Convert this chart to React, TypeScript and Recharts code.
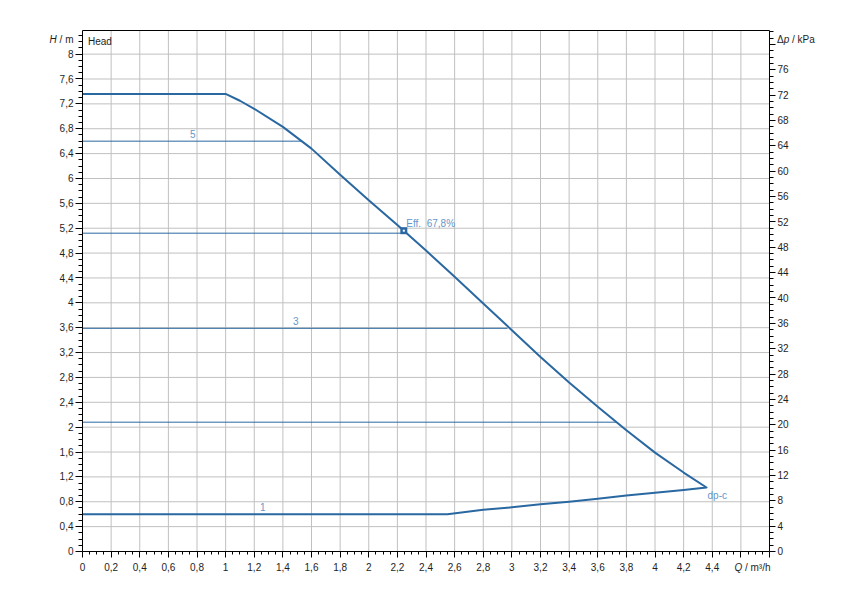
import React from "react";
import {
  ComposedChart,
  Line,
  Scatter,
  XAxis,
  YAxis,
  CartesianGrid,
  ReferenceLine,
  Label,
} from "recharts";

// ---------- data ----------
// max curve (dp-c limit, full speed), Q in m³/h, H in m
const MAX_Q = [0, 1.0, 1.1, 1.2, 1.4, 1.6, 1.8, 2.0, 2.2, 2.4, 2.6, 2.8, 3.0, 3.2, 3.4, 3.6, 3.8, 4.0, 4.2, 4.36];
const MAX_H = [7.36, 7.36, 7.25, 7.12, 6.83, 6.48, 6.06, 5.65, 5.25, 4.84, 4.42, 3.99, 3.56, 3.13, 2.72, 2.33, 1.95, 1.59, 1.27, 1.03];
// min curve (returning from end point)
const MIN_Q = [4.2, 4.0, 3.8, 3.6, 3.4, 3.2, 3.0, 2.8, 2.55, 0];
const MIN_H = [0.99, 0.945, 0.9, 0.85, 0.8, 0.76, 0.71, 0.67, 0.6, 0.6];
// constant-speed lines
const SPEED_H = [6.6, 5.12, 3.59, 2.08];
const SPEED_END_Q = [1.53, 2.245, 2.97, 3.73];
// curve labels
const CURVE_LABELS = [
  { q: 0.77, h: 6.6, text: "5" },
  { q: 1.49, h: 3.59, text: "3" },
  { q: 1.26, h: 0.6, text: "1" },
];
const END_LABEL = [{ q: 4.36, h: 1.03, text: "dp-c" }];
const EFF_POINT = [{ q: 2.245, h: 5.16, text: "Eff.  67,8%" }];

// axis ticks
const X_TICKS: number[] = [];
for (let i = 0; i <= 96; i++) X_TICKS.push(Math.round(i * 5) / 100);
const H_TICKS: number[] = [];
for (let i = 0; i <= 83; i++) H_TICKS.push(Math.round(i) / 10);
const P_TICKS: number[] = [];
for (let i = 0; i <= 82; i++) P_TICKS.push(i);
const X_GRID = [0.2, 0.4, 0.6, 0.8, 1, 1.2, 1.4, 1.6, 1.8, 2, 2.2, 2.4, 2.6, 2.8, 3, 3.2, 3.4, 3.6, 3.8, 4, 4.2, 4.4, 4.6];
const H_GRID = [0.4, 0.8, 1.2, 1.6, 2, 2.4, 2.8, 3.2, 3.6, 4, 4.4, 4.8, 5.2, 5.6, 6, 6.4, 6.8, 7.2, 7.6, 8];
const X_LABEL_MAX = 4.4;
const H_LABEL_MAX = 8;
const P_LABEL_MAX = 76;
const H_MAX = 8.38;
const P_MAX = H_MAX * 9.81;

// ---------- style ----------
const BLUE = "#2a68a2";
const LABEL_BLUE = "#6596cc";
const TEXT = "#1e1e1e";
const FONT = "'Liberation Sans', Arial, sans-serif";
const FS = 10;

const near = (v: number, step: number) => Math.abs(v / step - Math.round(v / step)) < 1e-6;
const fmt = (v: number) => String(Math.round(v * 100) / 100).replace(".", ",");
const crisp = (v: number) => Math.round(v - 0.5) + 0.5;

const X_SIZE = 6, X_MARGIN = 6;
const H_SIZE = 7, H_MARGIN = 2;
const P_SIZE = 6, P_MARGIN = 2;

const BottomTick = (p: any) => {
  const { x, y, payload } = p;
  const v = payload.value;
  const major = near(v, 0.2);
  const ay = y - X_SIZE - X_MARGIN;
  const cx = crisp(x);
  return (
    <g>
      <line x1={cx} x2={cx} y1={ay} y2={ay + (major ? X_SIZE : 3)} stroke="#000" />
      {major && v <= X_LABEL_MAX + 1e-6 && (
        <text x={x} y={y} dy="0.71em" textAnchor="middle" fontSize={FS} fontFamily={FONT} fill={TEXT}>
          {fmt(v)}
        </text>
      )}
    </g>
  );
};

const LeftTick = (p: any) => {
  const { x, y, payload } = p;
  const v = payload.value;
  const major = near(v, 0.4);
  const ax = x + H_MARGIN + H_SIZE;
  const cy = crisp(y);
  return (
    <g>
      <line x1={ax - (major ? H_SIZE : 4)} x2={ax} y1={cy} y2={cy} stroke="#000" />
      {major && v <= H_LABEL_MAX + 1e-6 && (
        <text x={x} y={y} dy="0.36em" textAnchor="end" fontSize={FS} fontFamily={FONT} fill={TEXT}>
          {fmt(v)}
        </text>
      )}
    </g>
  );
};

const RightTick = (p: any) => {
  const { x, y, payload } = p;
  const v = payload.value;
  const major = near(v, 4);
  const ax = x - P_MARGIN - P_SIZE;
  const cy = crisp(y);
  return (
    <g>
      <line x1={ax} x2={ax + (major ? P_SIZE : 4)} y1={cy} y2={cy} stroke="#000" />
      {major && v <= P_LABEL_MAX && (
        <text x={x} y={y} dy="0.36em" textAnchor="start" fontSize={FS} fontFamily={FONT} fill={TEXT}>
          {fmt(v)}
        </text>
      )}
    </g>
  );
};

const CurveLabel = (p: any) => (
  <text x={p.cx} y={p.cy} dy={-3.5} textAnchor="middle" fontSize={FS} fontFamily={FONT} fill={LABEL_BLUE}>
    {p.payload.text}
  </text>
);

const EndLabel = (p: any) => (
  <text x={p.cx} y={p.cy} dx={1} dy={12} textAnchor="start" fontSize={FS} fontFamily={FONT} fill={LABEL_BLUE}>
    {p.payload.text}
  </text>
);

const EffMarker = (p: any) => (
  <g>
    <rect x={p.cx - 3.5} y={p.cy - 3.5} width={7} height={7} fill={BLUE} />
    <rect x={p.cx - 1} y={p.cy - 1} width={2} height={2} fill="#fff" />
    <text x={p.cx} y={p.cy} dx={2.5} dy={-4} textAnchor="start" fontSize={FS} fontFamily={FONT} fill={LABEL_BLUE} style={{ whiteSpace: "pre" }}>
      {p.payload.text}
    </text>
  </g>
);

export default function App() {
  const mainCurve = [
    ...MAX_Q.map((q, i) => ({ q, h: MAX_H[i] })),
    ...MIN_Q.map((q, i) => ({ q, h: MIN_H[i] })),
  ];
  const speedLines = SPEED_H.map((h, i) => [
    { q: 0, h },
    { q: SPEED_END_Q[i], h },
  ]);

  return (
    <div style={{ position: "absolute", left: 0, top: 0, background: "#fff" }}>
      <ComposedChart
        width={850}
        height={600}
        margin={{ top: 30.5, right: 20.5, bottom: 18.5, left: 0.5 }}
      >
        <CartesianGrid
          xAxisId="x"
          yAxisId="h"
          stroke="#c0c0c0"
          strokeWidth={1}
          horizontalValues={H_GRID}
          verticalValues={X_GRID}
        />
        <XAxis
          xAxisId="x"
          dataKey="q"
          type="number"
          domain={[0, 4.8]}
          ticks={X_TICKS}
          interval={0}
          tick={<BottomTick />}
          tickLine={false}
          tickSize={X_SIZE}
          tickMargin={X_MARGIN}
          height={30}
          axisLine={{ stroke: "#000" }}
          allowDataOverflow
        >
          <Label
            content={(props: any) => {
              const vb = props.viewBox || { x: 82.5, y: 551.5, width: 687 };
              return (
                <text x={vb.x + vb.width + 1} y={vb.y + 19} textAnchor="end" fontSize={FS} fontFamily={FONT} fill={TEXT}>
                  <tspan fontStyle="italic">Q</tspan>
                  <tspan> / m³/h</tspan>
                </text>
              );
            }}
          />
        </XAxis>
        <YAxis
          yAxisId="h"
          type="number"
          domain={[0, H_MAX]}
          ticks={H_TICKS}
          interval={0}
          tick={<LeftTick />}
          tickLine={false}
          tickSize={H_SIZE}
          tickMargin={H_MARGIN}
          width={82}
          axisLine={{ stroke: "#000" }}
          allowDataOverflow
        >
          <Label
            content={(props: any) => {
              const vb = props.viewBox || { x: 0.5, y: 30.5, width: 82 };
              return (
                <text x={vb.x + vb.width - 9} y={vb.y + 12.5} textAnchor="end" fontSize={FS} fontFamily={FONT} fill={TEXT}>
                  <tspan fontStyle="italic">H</tspan>
                  <tspan> / m</tspan>
                </text>
              );
            }}
          />
        </YAxis>
        <YAxis
          yAxisId="p"
          orientation="right"
          type="number"
          domain={[0, P_MAX]}
          ticks={P_TICKS}
          interval={0}
          tick={<RightTick />}
          tickLine={false}
          tickSize={P_SIZE}
          tickMargin={P_MARGIN}
          width={60}
          axisLine={{ stroke: "#000" }}
          allowDataOverflow
        >
          <Label
            content={(props: any) => {
              const vb = props.viewBox || { x: 769.5, y: 30.5 };
              return (
                <text x={vb.x + 7.5} y={vb.y + 12.5} textAnchor="start" fontSize={FS} fontFamily={FONT} fill={TEXT}>
                  <tspan>Δ</tspan>
                  <tspan fontStyle="italic">p</tspan>
                  <tspan> / kPa</tspan>
                </text>
              );
            }}
          />
        </YAxis>
        <ReferenceLine
          xAxisId="x"
          yAxisId="h"
          y={H_MAX}
          stroke="#000"
          strokeWidth={1}
          label={(props: any) => {
            const vb = props.viewBox || { x: 82.5, y: 30.5 };
            return (
              <text x={vb.x + 5.5} y={vb.y + 14} textAnchor="start" fontSize={FS} fontFamily={FONT} fill={TEXT}>
                Head
              </text>
            );
          }}
        />
        {speedLines.map((d, i) => (
          <Line
            key={"s" + i}
            xAxisId="x"
            yAxisId="h"
            data={d}
            dataKey="h"
            type="linear"
            stroke={BLUE}
            strokeWidth={1}
            dot={false}
            activeDot={false}
            isAnimationActive={false}
          />
        ))}
        <Line
          xAxisId="x"
          yAxisId="h"
          data={mainCurve}
          dataKey="h"
          type="linear"
          stroke={BLUE}
          strokeWidth={2}
          strokeLinejoin="round"
          dot={false}
          activeDot={false}
          isAnimationActive={false}
        />
        <Scatter xAxisId="x" yAxisId="h" data={CURVE_LABELS} dataKey="h" shape={<CurveLabel />} isAnimationActive={false} />
        <Scatter xAxisId="x" yAxisId="h" data={END_LABEL} dataKey="h" shape={<EndLabel />} isAnimationActive={false} />
        <Scatter xAxisId="x" yAxisId="h" data={EFF_POINT} dataKey="h" shape={<EffMarker />} isAnimationActive={false} />
      </ComposedChart>
    </div>
  );
}
